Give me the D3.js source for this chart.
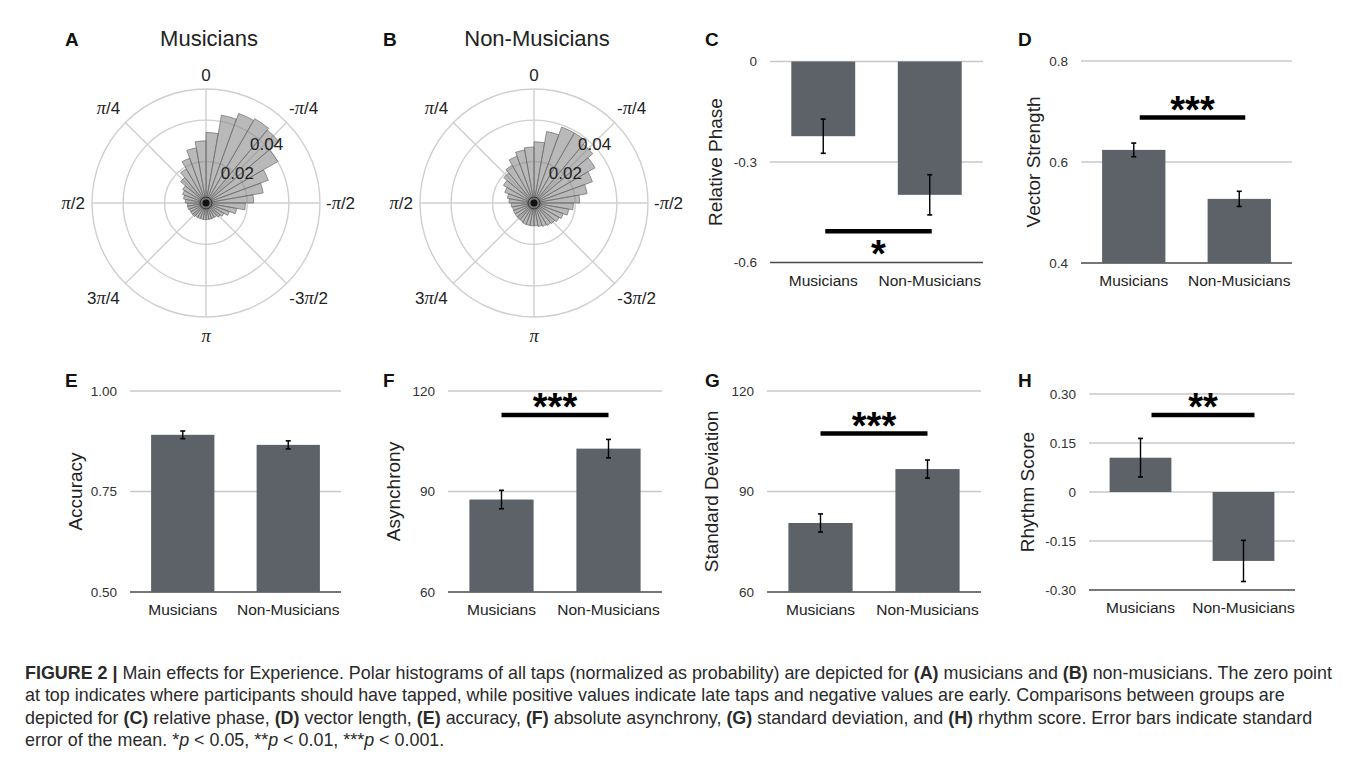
<!DOCTYPE html>
<html><head><meta charset="utf-8">
<script src="https://cdn.jsdelivr.net/npm/d3@7"></script>
<style>
body{margin:0;background:#fff}
svg{display:block}
text{font-family:"Liberation Sans",Arial,Helvetica,sans-serif}
</style>
</head><body>
<svg id="c" width="1357" height="760"></svg>
<script>
// ---------------- DATA ----------------
const groups = ["Musicians", "Non-Musicians"];

// Polar histograms: 36 bins of 10°, bin i covers phase -(i+1)·10° … -i·10° (clockwise from 0)
const musiciansHist = [
  0.034, 0.043, 0.046, 0.047, 0.046, 0.040, 0.032, 0.028, 0.023, 0.019,
  0.015, 0.012, 0.010, 0.009, 0.008, 0.008, 0.008, 0.008, 0.008, 0.008,
  0.008, 0.008, 0.0085, 0.0085, 0.0085, 0.009, 0.009, 0.010, 0.011, 0.012,
  0.013, 0.016, 0.019, 0.023, 0.027, 0.030
];
const nonMusiciansHist = [
  0.0295, 0.035, 0.039, 0.039, 0.037, 0.034, 0.030, 0.026, 0.022, 0.019,
  0.017, 0.015, 0.014, 0.013, 0.0125, 0.012, 0.0115, 0.011, 0.011, 0.011,
  0.011, 0.0105, 0.0105, 0.0105, 0.0105, 0.0105, 0.011, 0.012, 0.013, 0.015,
  0.017, 0.019, 0.021, 0.024, 0.026, 0.027
];
const polarRingTicks = [0.02, 0.04];
const polarRMax = 0.055;
const thetaTickAngles = [0, -45, -90, -135, 180, 135, 90, 45];   // degrees, counter-clockwise positive
const thetaTickLabels = ["0", "-π/4", "-π/2", "-3π/2", "π", "3π/4", "π/2", "π/4"];

// Bar panels
const relPhaseMean = [-0.223, -0.398], relPhaseSE = [0.051, 0.060];
const relPhaseTicks = [0, -0.3, -0.6], relPhaseTickLabels = ["0", "-0.3", "-0.6"];

const vecStrengthMean = [0.624, 0.527], vecStrengthSE = [0.0135, 0.015];
const vecStrengthTicks = [0.4, 0.6, 0.8], vecStrengthTickLabels = ["0.4", "0.6", "0.8"];

const accuracyMean = [0.891, 0.866], accuracySE = [0.0095, 0.010];
const accuracyTicks = [0.5, 0.75, 1.0], accuracyTickLabels = ["0.50", "0.75", "1.00"];

const asynchronyMean = [87.6, 102.8], asynchronySE = [2.75, 2.75];
const asynchronyTicks = [60, 90, 120], asynchronyTickLabels = ["60", "90", "120"];

const stdDevMean = [80.6, 96.7], stdDevSE = [2.7, 2.7];
const stdDevTicks = [60, 90, 120], stdDevTickLabels = ["60", "90", "120"];

const rhythmMean = [0.105, -0.211], rhythmSE = [0.059, 0.063];
const rhythmTicks = [-0.3, -0.15, 0, 0.15, 0.3], rhythmTickLabels = ["-0.30", "-0.15", "0", "0.15", "0.30"];

// significance brackets (value on the y scale, stars)
const sigRelPhase = {y: -0.507, stars: "*"};
const sigVecStrength = {y: 0.688, stars: "***"};
const sigAsynchrony = {y: 112.8, stars: "***"};
const sigStdDev = {y: 107.3, stars: "***"};
const sigRhythm = {y: 0.236, stars: "**"};

// ---------------- DRAW ----------------
const svg = d3.select("#c");
svg.append("rect").attr("width", 1357).attr("height", 760).attr("fill", "#fff");

function piLabel(sel, s) {
  const parts = s.split("π");
  parts.forEach((p, i) => {
    if (p) sel.append("tspan").text(p);
    if (i < parts.length - 1) sel.append("tspan")
      .attr("font-family", "'Liberation Serif','DejaVu Serif',serif")
      .attr("font-style", "italic").attr("font-size", "1.08em").text("π");
  });
}

function panelLetter(x, y, s) {
  svg.append("text").attr("x", x).attr("y", y).attr("font-size", 19)
    .attr("font-weight", "bold").attr("fill", "#111").text(s);
}

function drawPolar(cx, cy, title, data, letter, letterX) {
  const R = 114;
  const g = svg.append("g").attr("transform", `translate(${cx},${cy})`);
  const r = d3.scaleLinear().domain([0, polarRMax]).range([0, R]);
  const grid = "#cfcfcf";
  thetaTickAngles.forEach(a => {
    const rad = a * Math.PI / 180;
    g.append("line").attr("x1", 0).attr("y1", 0)
      .attr("x2", -Math.sin(rad) * R).attr("y2", -Math.cos(rad) * R)
      .attr("stroke", grid).attr("stroke-width", 1.4);
  });
  polarRingTicks.concat([polarRMax]).forEach(v => {
    g.append("circle").attr("r", r(v)).attr("fill", "none")
      .attr("stroke", grid).attr("stroke-width", 1.4);
  });
  const step = 2 * Math.PI / data.length;
  const arc = d3.arc();
  g.selectAll("path.w").data(data).join("path")
    .attr("d", (d, i) => arc({innerRadius: 0, outerRadius: r(d), startAngle: i * step, endAngle: (i + 1) * step}))
    .attr("fill", "#8a8a8a").attr("fill-opacity", 0.6)
    .attr("stroke", "#6a6a6a").attr("stroke-width", 0.7);
  g.append("circle").attr("r", 6).attr("fill", "none").attr("stroke", "#333").attr("stroke-width", 1);
  g.append("circle").attr("r", 3.5).attr("fill", "#111");
  // radial tick labels along -π/4
  polarRingTicks.forEach(v => {
    const rr = r(v);
    g.append("text").attr("x", rr * Math.SQRT1_2 + 2).attr("y", -rr * Math.SQRT1_2)
      .attr("text-anchor", "middle").attr("dominant-baseline", "central")
      .attr("font-size", 17).attr("fill", "#222").text(v.toFixed(2));
  });
  // angular labels
  thetaTickAngles.forEach((a, i) => {
    const rad = a * Math.PI / 180;
    const sx = -Math.sin(rad), sy = -Math.cos(rad);
    let x, y, anchor = "middle";
    if (Math.abs(sx) < 0.01) { x = 0; y = sy < 0 ? -(R + 14) : (R + 19); }
    else if (Math.abs(sy) < 0.01) { x = sx < 0 ? -(R + 7) : (R + 6); y = 0; anchor = sx < 0 ? "end" : "start"; }
    else {
      x = Math.sign(sx) * (R * Math.SQRT1_2 + (sy < 0 ? 17 : 22));
      y = Math.sign(sy) * (R * Math.SQRT1_2 + 14);
    }
    const t = g.append("text").attr("x", x).attr("y", y).attr("text-anchor", anchor)
      .attr("dominant-baseline", "central").attr("font-size", 17).attr("fill", "#222");
    piLabel(t, thetaTickLabels[i]);
  });
  svg.append("text").attr("x", cx + 3).attr("y", 46).attr("text-anchor", "middle")
    .attr("font-size", 22).attr("fill", "#222").text(title);
  panelLetter(letterX, 45.5, letter);
}

drawPolar(206, 203, "Musicians", musiciansHist, "A", 65);
drawPolar(534, 203, "Non-Musicians", nonMusiciansHist, "B", 383);

function drawBars(o) {
  const x = d3.scaleBand().domain(groups).range(o.xr).paddingInner(0.4).paddingOuter(0.2);
  const dom = d3.extent(o.ticks);
  const y = d3.scaleLinear().domain(dom).range(o.yr);
  const g = svg.append("g");
  // grid lines
  o.ticks.forEach((t, i) => {
    const bottom = t === dom[0];
    g.append("line").attr("x1", o.xr[0]).attr("x2", o.xr[1]).attr("y1", y(t)).attr("y2", y(t))
      .attr("stroke", bottom ? "#4a4a4a" : "#c8c8c8").attr("stroke-width", 1.5);
    g.append("text").attr("x", o.xr[0] - 13).attr("y", y(t)).attr("text-anchor", "end")
      .attr("dominant-baseline", "central").attr("font-size", 13.5).attr("fill", "#333")
      .text(o.tickLabels[i]);
  });
  const base = Math.max(dom[0], Math.min(dom[1], 0));
  g.selectAll("rect.b").data(o.means).join("rect")
    .attr("x", (d, i) => x(groups[i])).attr("width", x.bandwidth())
    .attr("y", d => Math.min(y(d), y(base))).attr("height", d => Math.abs(y(d) - y(base)))
    .attr("fill", "#5c6268");
  o.means.forEach((m, i) => {
    const cx = x(groups[i]) + x.bandwidth() / 2;
    const y1 = y(m - o.se[i]), y2 = y(m + o.se[i]);
    g.append("line").attr("x1", cx).attr("x2", cx).attr("y1", y1).attr("y2", y2).attr("stroke", "#000").attr("stroke-width", 1.4);
    [y1, y2].forEach(yy => g.append("line").attr("x1", cx - 2.5).attr("x2", cx + 2.5).attr("y1", yy).attr("y2", yy).attr("stroke", "#000").attr("stroke-width", 1.6));
  });
  // category labels
  groups.forEach(gr => {
    g.append("text").attr("x", x(gr) + x.bandwidth() / 2).attr("y", o.yr[0] + 23)
      .attr("text-anchor", "middle").attr("font-size", 15.5).attr("fill", "#222").text(gr);
  });
  // y label
  const ym = (o.yr[0] + o.yr[1]) / 2;
  g.append("text").attr("transform", `translate(${o.labelX},${ym}) rotate(-90)`)
    .attr("text-anchor", "middle").attr("dominant-baseline", "central")
    .attr("font-size", 19).attr("fill", "#222").text(o.ylabel);
  // significance
  if (o.sig) {
    const c0 = x(groups[0]) + x.bandwidth() / 2 + (o.sigShift || 0);
    const c1 = x(groups[1]) + x.bandwidth() / 2 + (o.sigShift || 0);
    const sy = y(o.sig.y);
    g.append("line").attr("x1", c0).attr("x2", c1).attr("y1", sy).attr("y2", sy)
      .attr("stroke", "#000").attr("stroke-width", 4.5);
    const starCy = o.starBelow ? sy + 16 : sy - 15;
    g.append("text").attr("x", (c0 + c1) / 2).attr("y", starCy + 20).attr("text-anchor", "middle")
      .attr("font-size", 38).attr("font-weight", "bold").attr("fill", "#000").text(o.sig.stars);
  }
  panelLetter(o.letterX, o.letterY, o.letter);
}

drawBars({letter: "C", letterX: 705, letterY: 45.5, xr: [770, 983], yr: [262.5, 61.5],
  ticks: relPhaseTicks, tickLabels: relPhaseTickLabels, means: relPhaseMean, se: relPhaseSE,
  ylabel: "Relative Phase", labelX: 715, sig: sigRelPhase, starBelow: true, sigShift: 2});
drawBars({letter: "D", letterX: 1018, letterY: 45.5, xr: [1081, 1292], yr: [263, 61],
  ticks: vecStrengthTicks, tickLabels: vecStrengthTickLabels, means: vecStrengthMean, se: vecStrengthSE,
  ylabel: "Vector Strength", labelX: 1033, sig: sigVecStrength, sigShift: 6});
drawBars({letter: "E", letterX: 65, letterY: 386.5, xr: [130, 341], yr: [592, 391],
  ticks: accuracyTicks, tickLabels: accuracyTickLabels, means: accuracyMean, se: accuracySE,
  ylabel: "Accuracy", labelX: 75});
drawBars({letter: "F", letterX: 383, letterY: 386.5, xr: [448, 662], yr: [592, 391],
  ticks: asynchronyTicks, tickLabels: asynchronyTickLabels, means: asynchronyMean, se: asynchronySE,
  ylabel: "Asynchrony", labelX: 393, sig: sigAsynchrony});
drawBars({letter: "G", letterX: 705, letterY: 386.5, xr: [767, 981], yr: [592, 391],
  ticks: stdDevTicks, tickLabels: stdDevTickLabels, means: stdDevMean, se: stdDevSE,
  ylabel: "Standard Deviation", labelX: 711, sig: sigStdDev});
drawBars({letter: "H", letterX: 1018, letterY: 386.5, xr: [1089, 1295], yr: [590, 394],
  ticks: rhythmTicks, tickLabels: rhythmTickLabels, means: rhythmMean, se: rhythmSE,
  ylabel: "Rhythm Score", labelX: 1027, sig: sigRhythm, sigShift: 11});

// ---------------- CAPTION ----------------
const captionLines = [
  [["FIGURE 2 | ", "b"], ["Main effects for Experience. Polar histograms of all taps (normalized as probability) are depicted for "], ["(A)", "b"], [" musicians and "], ["(B)", "b"], [" non-musicians. The zero point"]],
  [["at top indicates where participants should have tapped, while positive values indicate late taps and negative values are early. Comparisons between groups are"]],
  [["depicted for "], ["(C)", "b"], [" relative phase, "], ["(D)", "b"], [" vector length, "], ["(E)", "b"], [" accuracy, "], ["(F)", "b"], [" absolute asynchrony, "], ["(G)", "b"], [" standard deviation, and "], ["(H)", "b"], [" rhythm score. Error bars indicate standard"]],
  [["error of the mean. *"], ["p", "i"], [" < 0.05, **"], ["p", "i"], [" < 0.01, ***"], ["p", "i"], [" < 0.001."]]
];
captionLines.forEach((segs, li) => {
  const t = svg.append("text").attr("x", 25).attr("y", 678.5 + li * 22.5)
    .attr("font-size", 17.9).attr("fill", "#2a2a2a").attr("xml:space", "preserve");
  segs.forEach(([s, f]) => {
    const ts = t.append("tspan").text(s);
    if (f === "b") ts.attr("font-weight", "bold");
    if (f === "i") ts.attr("font-style", "italic");
  });
});
</script>
</body></html>
